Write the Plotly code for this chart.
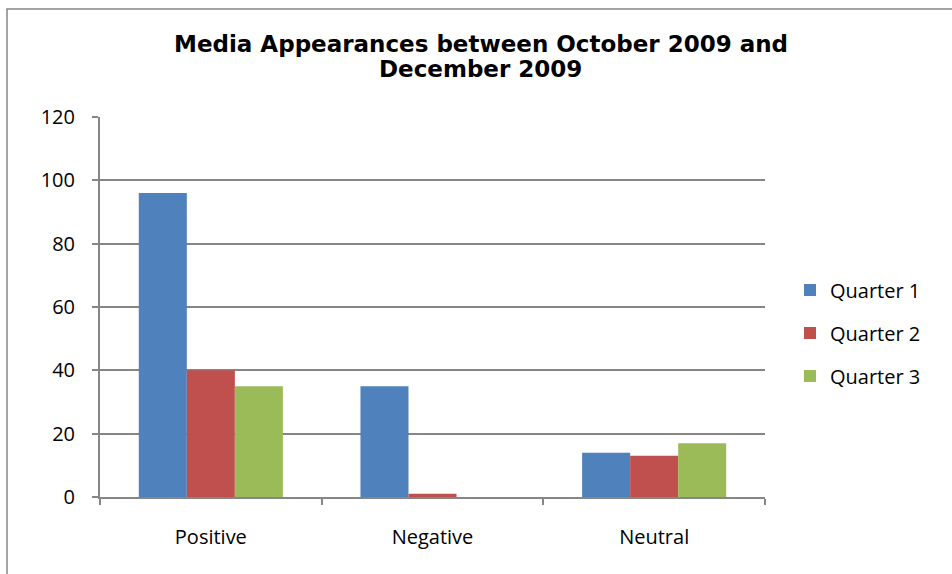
import plotly.graph_objects as go

# Sentiment categories and appearance counts per quarter
categories = ["Positive", "Negative", "Neutral"]
quarter_1 = [96, 35, 14]
quarter_2 = [40, 1, 13]
quarter_3 = [35, 0, 17]
series_names = ["Quarter 1", "Quarter 2", "Quarter 3"]
series_colors = ["#4F81BD", "#C0504D", "#9BBB59"]
y_ticks = [0, 20, 40, 60, 80, 100, 120]
title_lines = ["Media Appearances between October 2009 and", "December 2009"]

W, H = 952, 574
L, R, T, B = 100, 187, 117, 77
pw, ph = W - L - R, H - T - B


def px_x(x):
    """Pixel column -> paper x."""
    return (x - L) / pw


def px_y(y):
    """Pixel row -> paper y."""
    return (H - B - y) / ph


fig = go.Figure()
for i, (name, vals, col) in enumerate(zip(series_names, [quarter_1, quarter_2, quarter_3], series_colors)):
    fig.add_trace(go.Bar(
        x=categories, y=vals, name=name, marker_color=col,
        marker_line_width=0, legendgroup=f"g{i}",
    ))

axis_grey = "#868686"
body_font = "'Open Sans', Lato, sans-serif"
title_font = dict(family="'DejaVu Sans', sans-serif", size=23, color="black")

# outer chart frame
fig.add_shape(
    type="rect", xref="paper", yref="paper",
    x0=px_x(7), x1=px_x(W + 5), y0=px_y(H + 5), y1=px_y(9),
    line=dict(color=axis_grey, width=1.5), fillcolor="rgba(0,0,0,0)", layer="below",
)

# two-line chart title
for text, yc in zip(title_lines, [44, 69]):
    fig.add_annotation(
        text=f"<b>{text}</b>", xref="paper", yref="paper",
        x=px_x(481), y=px_y(yc), xanchor="center", yanchor="middle",
        showarrow=False, font=title_font,
    )

fig.update_layout(
    width=W, height=H,
    margin=dict(l=L, r=R, t=T, b=B, autoexpand=False),
    paper_bgcolor="white", plot_bgcolor="white",
    barmode="group", bargap=0.35, bargroupgap=0,
    font=dict(family=body_font, size=20, color="black"),
    legend=dict(
        x=px_x(790), xanchor="left", y=px_y(333), yanchor="middle",
        font=dict(family=body_font, size=20, color="black"),
        tracegroupgap=14, bgcolor="rgba(0,0,0,0)",
    ),
    xaxis=dict(
        showline=True, linecolor=axis_grey, linewidth=2,
        ticks="outside", tickson="boundaries", ticklen=6, tickcolor=axis_grey, tickwidth=2,
        showgrid=False, tickfont=dict(size=20), ticklabelstandoff=21,
    ),
    yaxis=dict(
        range=[0, 120], tickvals=y_ticks,
        showline=True, linecolor=axis_grey, linewidth=2,
        ticks="outside", ticklen=6, tickcolor=axis_grey, tickwidth=2,
        showgrid=True, gridcolor=axis_grey, gridwidth=1.5,
        zeroline=False, tickfont=dict(size=20), ticklabelstandoff=13,
    ),
    showlegend=True,
)

fig.write_html("out.html")
